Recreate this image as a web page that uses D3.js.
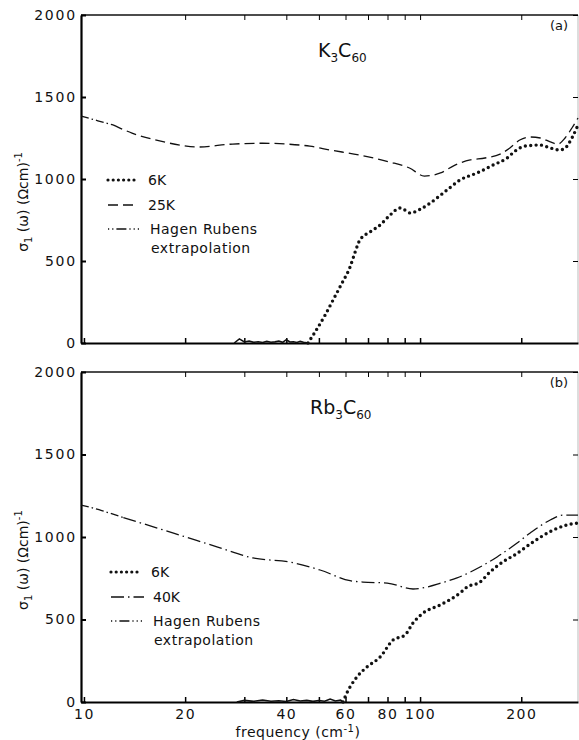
<!DOCTYPE html>
<html>
<head>
<meta charset="utf-8">
<script src="https://cdn.jsdelivr.net/npm/d3@7"></script>
<style>
  body { margin: 0; background: #fff; }
  svg text { font-family: "DejaVu Sans", sans-serif; fill: #111; }
</style>
</head>
<body>
<div id="chart"></div>
<script>
// ---- data ----
// (a) K3C60
var a_hr_freq = [9.8, 11, 12.2]
var a_hr_val = [1384, 1355, 1330]
var a_25k_freq = [12.2, 13.9, 16.8, 19.3, 21.7, 27.7, 34, 40.2, 47, 54, 66, 81, 93, 103, 115, 127, 141, 156, 173, 185, 198, 212, 228, 244, 257, 270, 283, 295]
var a_25k_val = [1330, 1280, 1232, 1207, 1195, 1213, 1218, 1213, 1200, 1177, 1146, 1104, 1067, 1018, 1037, 1085, 1116, 1128, 1152, 1189, 1238, 1256, 1250, 1226, 1213, 1250, 1311, 1372]
var a_6k_freq = [46.4, 48.7, 52.2, 55.1, 58.6, 61.9, 64.1, 66.2, 71, 76.1, 81.4, 87.2, 90, 93.4, 100, 107.1, 120.3, 131.5, 147.8, 164.9, 181.5, 191.9, 205.5, 227.5, 243.9, 260.9, 270.3, 283.9, 295]
var a_6k_val = [0, 67, 171, 262, 366, 463, 555, 628, 677, 720, 780, 823, 811, 793, 815, 853, 933, 994, 1037, 1085, 1128, 1171, 1201, 1207, 1189, 1177, 1189, 1256, 1329]
var a_noise_freq = [28, 29, 30, 31, 32, 33, 34, 35, 36, 37, 38, 39, 40, 41, 42, 43, 44, 45, 46.4]
var a_noise_val = [0, 25, 6, 12, 4, 8, 3, 10, 5, 7, 12, 4, 20, 6, 8, 3, 10, 5, 0]

// (b) Rb3C60
var b_hr_freq = [9.8, 11.3, 13.1]
var b_hr_val = [1194, 1160, 1117]
var b_40k_freq = [13.1, 16, 20, 25, 31.8, 41, 50.4, 61.9, 67.6, 79.8, 95.3, 104.9, 115, 128.8, 150.8, 169.5, 194.4, 212.6, 243.9, 266.1, 295]
var b_40k_val = [1117, 1063, 1001, 939, 873, 848, 800, 735, 727, 721, 685, 697, 720, 752, 818, 879, 964, 1024, 1103, 1133, 1133]
var b_6k_freq = [59, 59.8, 64.9, 69.5, 76.1, 83.1, 90.2, 95.3, 102.1, 114.7, 131.5, 138, 150.8, 161.5, 181.5, 189, 216.9, 248.8, 273.5, 295]
var b_6k_val = [0, 30, 152, 212, 273, 376, 406, 479, 539, 588, 661, 697, 727, 788, 865, 885, 970, 1042, 1073, 1085]
var b_noise_freq = [28.5, 30, 32, 34, 36, 38, 40, 42, 44, 46, 48, 50, 52, 54, 56, 58, 59]
var b_noise_val = [0, 10, 4, 12, 5, 8, 3, 15, 6, 10, 4, 9, 5, 18, 6, 12, 0]

var y_ticks = [0, 500, 1000, 1500, 2000]
var x_ticks = [10, 20, 30, 40, 50, 60, 70, 80, 90, 100, 200]
var x_labels = [10, 20, 40, 60, 80, 100, 200]

var W = 579, H = 740

var svg = d3.select('#chart').append('svg')
  .attr('width', W)
  .attr('height', H)

var x = d3.scaleLog().domain([9.8, 295]).range([81, 578])

function zip(f, v){
  return f.map(function(d, i){ return [d, v[i]] })
}

function panel(top, bottom, opts){
  var y = d3.scaleLinear().domain([0, 2000]).range([bottom, top])
  var g = svg.append('g')

  var line = d3.line()
    .x(function(d){ return x(d[0]) })
    .y(function(d){ return y(d[1]) })
    .curve(d3.curveMonotoneX)

  // frame: thin top / right, heavy left / bottom
  g.append('line').attr('x1', 81).attr('x2', 578).attr('y1', top).attr('y2', top)
    .attr('stroke', '#111').attr('stroke-width', 1.3)
  g.append('line').attr('x1', 578).attr('x2', 578).attr('y1', top).attr('y2', bottom)
    .attr('stroke', '#bbb').attr('stroke-width', 1)

  var ax_top = g.append('g').attr('transform', 'translate(0,' + top + ')')
    .call(d3.axisTop(x).tickValues(x_ticks.slice(1)).tickSizeInner(-5).tickSizeOuter(0).tickFormat(''))
  ax_top.select('.domain').remove()

  var ax_right = g.append('g').attr('transform', 'translate(578,0)')
    .call(d3.axisRight(y).tickValues(y_ticks).tickSizeInner(-5).tickSizeOuter(0).tickFormat(''))
  ax_right.select('.domain').remove()

  var ax_left = g.append('g').attr('transform', 'translate(81,0)')
    .call(d3.axisLeft(y).tickValues(y_ticks).tickSizeInner(-5).tickSizeOuter(0).tickPadding(4)
      .tickFormat(d3.format('d')))
  ax_left.select('.domain').attr('stroke-width', 2.2)
  ax_left.selectAll('.tick line').attr('stroke-width', 2)
  ax_left.selectAll('text')
    .attr('font-family', '"DejaVu Sans", sans-serif')
    .attr('font-size', 14)
    .attr('letter-spacing', 1.8)
    .attr('fill', '#111')

  var ax_bot = g.append('g').attr('transform', 'translate(0,' + bottom + ')')
    .call(d3.axisBottom(x).tickValues(x_ticks).tickSizeInner(-5).tickSizeOuter(0).tickPadding(7)
      .tickFormat(function(d){ return opts.xlabels && x_labels.indexOf(d) >= 0 ? d : '' }))
  ax_bot.select('.domain').attr('stroke-width', 2.2)
  ax_bot.selectAll('.tick line').attr('stroke-width', 1.5)
  ax_bot.selectAll('text')
    .attr('font-family', '"DejaVu Sans", sans-serif')
    .attr('font-size', 14)
    .attr('letter-spacing', 1.5)
    .attr('fill', '#111')

  // curves
  g.append('path').datum(zip(opts.noise_f, opts.noise_v))
    .attr('d', d3.line().x(function(d){ return x(d[0]) }).y(function(d){ return y(d[1]) }))
    .attr('fill', 'none').attr('stroke', '#111').attr('stroke-width', 1.6)

  g.append('path').datum(zip(opts.hr_f, opts.hr_v))
    .attr('d', line)
    .attr('fill', 'none').attr('stroke', '#111').attr('stroke-width', 1.3)
    .attr('stroke-dasharray', '8 3 1.5 3')

  g.append('path').datum(zip(opts.warm_f, opts.warm_v))
    .attr('d', line)
    .attr('fill', 'none').attr('stroke', '#111').attr('stroke-width', 1.3)
    .attr('stroke-dasharray', opts.warm_dash)

  g.append('path').datum(zip(opts.cold_f, opts.cold_v))
    .attr('d', line)
    .attr('fill', 'none').attr('stroke', '#111').attr('stroke-width', 3.4)
    .attr('stroke-linecap', 'round')
    .attr('stroke-dasharray', '0 5.4')

  // legend
  var lx = opts.legend_x, ly = opts.legend_y
  g.append('line').attr('x1', lx).attr('x2', lx + 29).attr('y1', ly).attr('y2', ly)
    .attr('stroke', '#111').attr('stroke-width', 3.2).attr('stroke-linecap', 'round')
    .attr('stroke-dasharray', '0 5.2')
  g.append('text').attr('x', lx + 40).attr('y', ly + 5).attr('font-size', 14).text('6K')

  g.append('line').attr('x1', lx).attr('x2', lx + opts.warm_len).attr('y1', ly + 25).attr('y2', ly + 25)
    .attr('stroke', '#111').attr('stroke-width', 1.3).attr('stroke-dasharray', opts.warm_dash)
  g.append('text').attr('x', lx + opts.warm_text).attr('y', ly + 30).attr('font-size', 14).text(opts.warm_name)

  g.append('line').attr('x1', lx).attr('x2', lx + 31).attr('y1', ly + 49).attr('y2', ly + 49)
    .attr('stroke', '#111').attr('stroke-width', 1.3).attr('stroke-dasharray', '1.2 3 1.2 3 10 3')
  g.append('text').attr('x', lx + 42).attr('y', ly + 54).attr('font-size', 14).attr('letter-spacing', 0.5).text('Hagen Rubens')
  g.append('text').attr('x', lx + 43).attr('y', ly + 73).attr('font-size', 14).attr('letter-spacing', 0.5).text('extrapolation')

  // compound name with subscripts
  var t = g.append('text').attr('x', opts.name_x).attr('y', top + 42).attr('font-size', 19)
  opts.name.forEach(function(p){
    t.append('tspan').attr('font-size', p[1] ? 12 : 19).attr('dy', p[1] ? 5 : (p[2] ? -5 : 0)).text(p[0])
  })

  g.append('text').attr('x', 559).attr('y', top + 15).attr('font-size', 13).attr('text-anchor', 'middle')
    .text(opts.tag)

  // y axis title
  var yl = g.append('text')
    .attr('transform', 'translate(28,' + (top + (bottom - top) * 0.57) + ') rotate(-90)')
    .attr('text-anchor', 'middle').attr('font-size', 14)
  yl.append('tspan').text('σ')
  yl.append('tspan').attr('font-size', 10).attr('dy', 4).text('1')
  yl.append('tspan').attr('dy', -4).text(' (ω) (Ωcm)')
  yl.append('tspan').attr('font-size', 10).attr('dy', -6).text('-1')
}

panel(15, 343, {
  hr_f: a_hr_freq, hr_v: a_hr_val,
  warm_f: a_25k_freq, warm_v: a_25k_val, warm_dash: '10 5', warm_len: 29, warm_text: 40, warm_name: '25K',
  cold_f: a_6k_freq, cold_v: a_6k_val,
  noise_f: a_noise_freq, noise_v: a_noise_val,
  legend_x: 108, legend_y: 180,
  name: [['K'], ['3', true], ['C', false, true], ['60', true]], name_x: 318,
  tag: '(a)', xlabels: false
})

panel(372, 702, {
  hr_f: b_hr_freq, hr_v: b_hr_val,
  warm_f: b_40k_freq, warm_v: b_40k_val, warm_dash: '13 4 1.5 4', warm_len: 33, warm_text: 42, warm_name: '40K',
  cold_f: b_6k_freq, cold_v: b_6k_val,
  noise_f: b_noise_freq, noise_v: b_noise_val,
  legend_x: 111, legend_y: 572,
  name: [['Rb'], ['3', true], ['C', false, true], ['60', true]], name_x: 310,
  tag: '(b)', xlabels: true
})

// x axis title
var xt = svg.append('text').attr('x', 298).attr('y', 737).attr('text-anchor', 'middle').attr('font-size', 14)
  .attr('letter-spacing', 0.5)
xt.append('tspan').text('frequency (cm')
xt.append('tspan').attr('font-size', 10).attr('dy', -5).text('-1')
xt.append('tspan').attr('dy', 5).text(')')
</script>
</body>
</html>
